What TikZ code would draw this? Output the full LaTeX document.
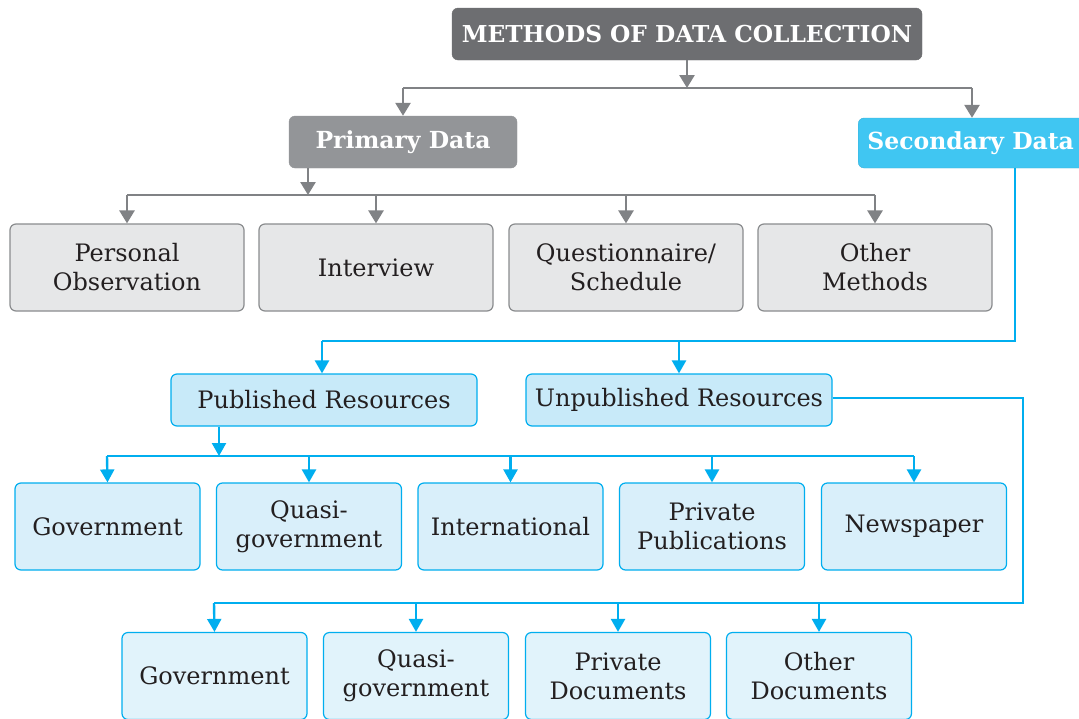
\documentclass[tikz,border=0pt]{standalone}
\usepackage{fontspec}
\setmainfont{DejaVu Serif}
\usetikzlibrary{arrows.meta}
\definecolor{titlegray}{HTML}{6D6E71}
\definecolor{primgray}{HTML}{939598}
\definecolor{linegray}{HTML}{808285}
\definecolor{boxgray}{HTML}{E6E7E8}
\definecolor{boxgrayline}{HTML}{8A8C8E}
\definecolor{cyanline}{HTML}{00AEEF}
\definecolor{secfill}{HTML}{40C6F2}
\definecolor{pubfill}{HTML}{C8EAF9}
\definecolor{rowthree}{HTML}{D9EFFA}
\definecolor{rowfour}{HTML}{E1F3FB}
\definecolor{textdark}{HTML}{231F20}
\tikzset{
  base/.style={rounded corners=6pt, align=center, inner sep=0pt, text=textdark,
    font=\fontsize{24}{29}\selectfont},
  titlebox/.style={base, fill=titlegray, draw=titlegray, text=white,
    font=\fontsize{23.3}{29}\selectfont\bfseries, minimum width=470pt, minimum height=52pt},
  primbox/.style={base, fill=primgray, draw=primgray, text=white,
    font=\fontsize{23.5}{29}\selectfont\bfseries, minimum width=228pt, minimum height=52pt},
  secbox/.style={base, fill=secfill, draw=secfill!90!black, text=white,
    font=\fontsize{23.5}{29}\selectfont\bfseries, minimum width=240pt, minimum height=50pt},
  graybox/.style={base, fill=boxgray, draw=boxgrayline, line width=1.2pt,
    minimum width=234pt, minimum height=87pt},
  pubbox/.style={base, fill=pubfill, draw=cyanline, line width=1.2pt,
    minimum width=306pt, minimum height=52pt},
  bluebox/.style={base, fill=rowthree, draw=cyanline, line width=1.2pt,
    minimum width=185pt, minimum height=87pt},
  bluebox4/.style={base, fill=rowfour, draw=cyanline, line width=1.2pt,
    minimum width=185pt, minimum height=87pt},
  garr/.style={draw=linegray, line width=2.6pt, -{Triangle[width=15pt,length=13pt]}, color=linegray},
  gline/.style={draw=linegray, line width=2.6pt},
  carr/.style={draw=cyanline, line width=2.4pt, -{Triangle[width=14pt,length=13pt]}, color=cyanline},
  cline/.style={draw=cyanline, line width=2.4pt},
}
\begin{document}
\begin{tikzpicture}[x=1pt, y=-1pt]
\useasboundingbox (0,0) rectangle (1079,718);
\clip (0,0) rectangle (1079,718);
\fill[white] (0,0) rectangle (1079,718);

% nodes
\node[titlebox] (title) at (687,34) {METHODS OF DATA COLLECTION};
\node[primbox] (prim) at (403,142) {Primary Data};
\node[secbox, anchor=west] (sec) at (858,143) {\hspace*{-15pt}Secondary Data};
\node[graybox] (po) at (127,267.5) {Personal\\Observation};
\node[graybox] (iv) at (376,267.5) {Interview};
\node[graybox] (qs) at (626,267.5) {Questionnaire/\\Schedule};
\node[graybox] (om) at (875,267.5) {Other\\Methods};
\node[pubbox] (pub) at (324,400) {Published Resources};
\node[pubbox] (unp) at (679,400) {\raisebox{3pt}{Unpublished Resources}};
\node[bluebox] (g1) at (107.5,526.5) {Government};
\node[bluebox] (q1) at (309,526.5) {Quasi-\\government};
\node[bluebox] (in) at (510.5,526.5) {International};
\node[bluebox] (pp) at (712,526.5) {Private\\Publications};
\node[bluebox] (np) at (914,526.5) {\raisebox{2pt}{Newspaper}};
\node[bluebox4] (g2) at (214.5,676) {Government};
\node[bluebox4] (q2) at (416,676) {Quasi-\\government};
\node[bluebox4] (pd) at (618,676) {Private\\Documents};
\node[bluebox4] (od) at (819,676) {Other\\Documents};

% coordinates
\coordinate (t1) at (687,88);
\coordinate (tl) at (403,88);
\coordinate (tr) at (972,88);
\coordinate (p1) at (308,195);
\coordinate (pl) at (127,195);
\coordinate (pr) at (875,195);
\coordinate (s1) at (1015,341);
\coordinate (sl) at (322,341);
\coordinate (b1) at (219,456);
\coordinate (bl) at (107,456);
\coordinate (br) at (914,456);
\coordinate (u1) at (1023,398);
\coordinate (u2) at (1023,603);
\coordinate (ul) at (214,603);

% gray connectors
\draw[garr] (title.south) -- (t1);
\draw[gline] (tl) -- (tr);
\draw[garr] (tl) -- (prim.north);
\draw[garr] (tr) -- (tr |- sec.north);
\draw[garr] (prim.south -| p1) -- (p1);
\draw[gline] (pl) -- (pr);
\draw[garr] (pl) -- (po.north);
\draw[garr] (iv.north |- pl) -- (iv.north);
\draw[garr] (qs.north |- pl) -- (qs.north);
\draw[garr] (pr) -- (om.north);

% cyan connectors
\draw[cline] (sec.south -| s1) -- (s1) -- (sl);
\draw[carr] (sl) -- (sl |- pub.north);
\draw[carr] (unp.north |- sl) -- (unp.north);
\draw[carr] (pub.south -| b1) -- (b1);
\draw[cline] (bl) -- (br);
\draw[carr] (bl) -- (g1.north);
\draw[carr] (q1.north |- bl) -- (q1.north);
\draw[carr] (in.north |- bl) -- (in.north);
\draw[carr] (pp.north |- bl) -- (pp.north);
\draw[carr] (br) -- (np.north);
\draw[cline] (unp.east |- u1) -- (u1) -- (u2) -- (ul);
\draw[carr] (ul) -- (g2.north);
\draw[carr] (q2.north |- ul) -- (q2.north);
\draw[carr] (pd.north |- ul) -- (pd.north);
\draw[carr] (od.north |- ul) -- (od.north);
\end{tikzpicture}
\end{document}
